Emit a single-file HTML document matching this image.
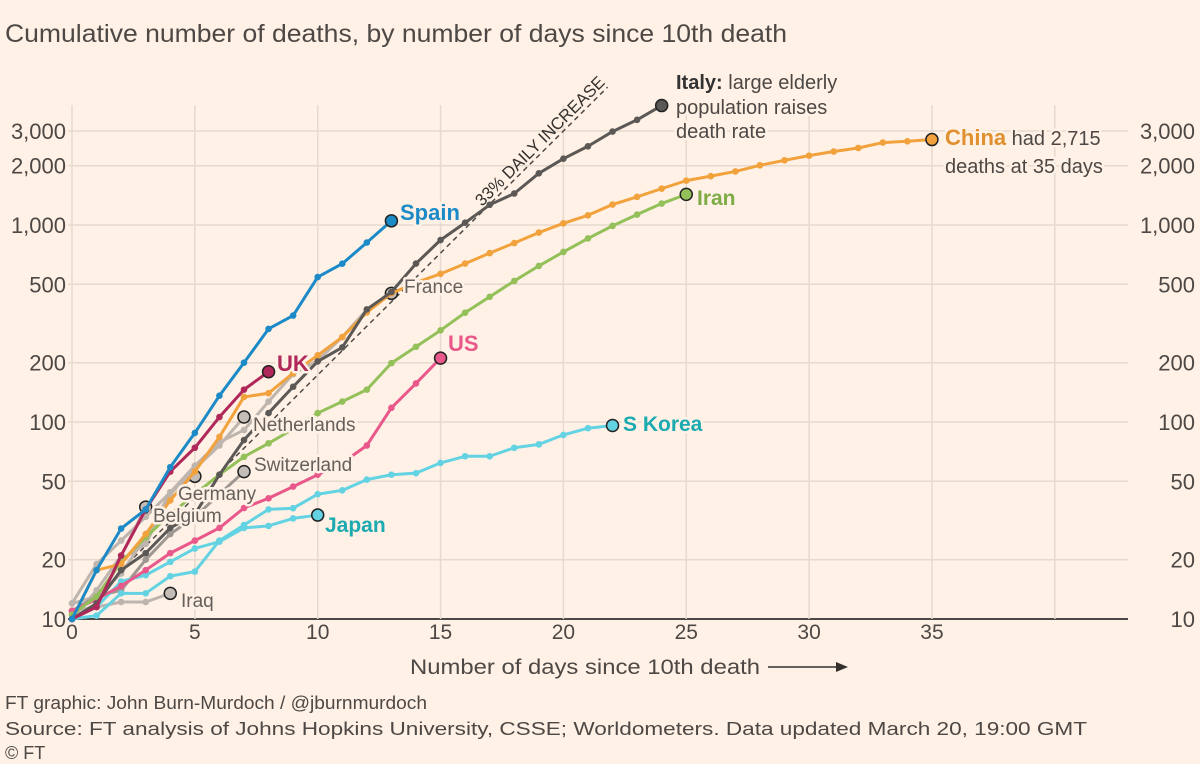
<!DOCTYPE html>
<html><head><meta charset="utf-8">
<style>
body{margin:0;background:#fff1e5;}
svg{display:block;font-family:"Liberation Sans",sans-serif;}
.halo{paint-order:stroke;stroke:#fff1e5;stroke-width:5px;stroke-linejoin:round;}
</style></head>
<body>
<svg id="chart" width="1200" height="764" viewBox="0 0 1200 764">
<rect width="1200" height="764" fill="#fff1e5"/>
<text x="5" y="42" font-size="25" fill="#4d4845" textLength="782" lengthAdjust="spacingAndGlyphs">Cumulative number of deaths, by number of days since 10th death</text>
<g id="grid"></g>
<g id="axes"></g>
<g id="series"></g>
<g id="labels">
<text class="halo" x="400" y="220" font-size="22" font-weight="bold" fill="#1d8ac8">Spain</text>
<text class="halo" x="676" y="89" font-size="20" fill="#4d4845"><tspan font-weight="bold" font-size="20" fill="#333">Italy:</tspan> large elderly</text>
<text class="halo" x="676" y="114" font-size="20" fill="#4d4845">population raises</text>
<text class="halo" x="676" y="138" font-size="20" fill="#4d4845">death rate</text>
<text class="halo" x="945" y="145" font-size="20" fill="#4d4845"><tspan font-weight="bold" font-size="22" fill="#e0902e">China</tspan> had 2,715</text>
<text class="halo" x="945" y="173" font-size="20" fill="#4d4845">deaths at 35 days</text>
<text class="halo" x="697" y="205" font-size="21" font-weight="bold" fill="#7fab45">Iran</text>
<text class="halo" x="404" y="293" font-size="19" fill="#66605c">France</text>
<text class="halo" x="448" y="351" font-size="22" font-weight="bold" fill="#e8588a">US</text>
<text class="halo" x="277" y="371" font-size="22" font-weight="bold" fill="#b0285a">UK</text>
<text class="halo" x="253" y="431" font-size="19" fill="#66605c">Netherlands</text>
<text class="halo" x="254" y="471" font-size="19" fill="#66605c">Switzerland</text>
<text class="halo" x="178" y="500" font-size="19" fill="#66605c">Germany</text>
<text class="halo" x="153" y="522" font-size="19" fill="#66605c">Belgium</text>
<text class="halo" x="181" y="607" font-size="19" fill="#66605c">Iraq</text>
<text class="halo" x="325" y="532" font-size="21" font-weight="bold" fill="#1aaab0">Japan</text>
<text class="halo" x="623" y="431" font-size="21" font-weight="bold" fill="#1aaab0">S Korea</text>
<text x="0" y="0" font-size="17" fill="#33302e" transform="translate(482,207) rotate(-45)" textLength="175" lengthAdjust="spacingAndGlyphs">33% DAILY INCREASE</text>
</g>
<text x="410" y="674" font-size="21" fill="#4d4845" textLength="350" lengthAdjust="spacingAndGlyphs">Number of days since 10th death</text>
<line x1="768" y1="667" x2="838" y2="667" stroke="#33302e" stroke-width="1.5"/>
<path d="M848 667 L836 662 L836 672 Z" fill="#33302e"/>
<text x="5" y="709" font-size="18" fill="#4d4845" textLength="422" lengthAdjust="spacingAndGlyphs">FT graphic: John Burn-Murdoch / @jburnmurdoch</text>
<text x="5" y="735" font-size="18" fill="#4d4845" textLength="1082" lengthAdjust="spacingAndGlyphs">Source: FT analysis of Johns Hopkins University, CSSE; Worldometers. Data updated March 20, 19:00 GMT</text>
<text x="5" y="759" font-size="18" fill="#4d4845">© FT</text>
</svg>
<script>
const yTicks = [10, 20, 50, 100, 200, 500, 1000, 2000, 3000];
const yTickLabels = ["10", "20", "50", "100", "200", "500", "1,000", "2,000", "3,000"];
const xTicks = [0, 5, 10, 15, 20, 25, 30, 35];
const spain = [10,17.7,28.8,36,59,88,136,200,297,347,544,636,815,1050];
const italy = [10,12,17.7,21.6,29,34,54,81,111,151,203,239,373,457,637,839,1027,1266,1445,1830,2170,2510,2980,3420,4040];
const china = [10,17.7,19,27,40,56,84,134,140,177,218,270,360,450,510,565,637,720,810,915,1020,1120,1270,1390,1530,1680,1770,1870,2010,2130,2250,2360,2460,2620,2660,2715];
const iran = [10.5,13,19.5,26,34,43,54,66.6,78,92,111,127,146,199,241,292,359,432,520,620,730,855,990,1130,1285,1430];
const us = [11,12.6,14.7,17.7,21.6,25,29,36.6,41,47,54,62,76,118,157,211];
const uk = [10,11.5,21,36,56,74,106,146,180];
const france = [12,19,25,33,44,60,79,91,127,175,205,270,372,450];
const netherlands = [10,12,20,24,43,58,76,106];
const germany = [12,13,17,26,44,53];
const belgium = [10,14,21,37];
const switzerland = [11,13,14,20,27,33,43,56];
const iraq = [11,11.5,12.2,12.2,13.5];
const japan = [10,11.5,15.5,16.7,19.5,22.8,24.7,29,29.7,32.4,33.7];
const skorea = [10,10.4,13.5,13.5,16.5,17.4,25,30,36,36.5,43,45,51,54,55,62,67,67,74,77,86,93,96];
const dailyRate = 1.33;
const dashStart = 2, dashEnd = 21.8;

const NS = "http://www.w3.org/2000/svg";
const X = d => 72 + d * 24.57;
const Y = v => 619 - 197 * (Math.log10(v) - 1);
function mk(tag, attrs, parent){const e=document.createElementNS(NS,tag);for(const k in attrs)e.setAttribute(k,attrs[k]);parent.appendChild(e);return e;}
const grid=document.getElementById('grid'), axes=document.getElementById('axes'), ser=document.getElementById('series');
yTicks.forEach((v,i)=>{
  const l=mk('line',{x1:68,x2:1128,y1:Y(v),y2:Y(v),stroke:v===10?'#4d4845':'#e6d9ce','stroke-width':v===10?2:1.5},grid);
  
  
  const t=mk('text',{x:66,y:Y(v)+8,'text-anchor':'end','font-size':22,fill:'#4d4845'},axes);
  t.textContent=yTickLabels[i];
  
  
  const t2=mk('text',{x:1195,y:Y(v)+8,'text-anchor':'end','font-size':22,fill:'#4d4845'},axes);
  t2.textContent=yTickLabels[i];
  
  
});
xTicks.concat([40]).forEach(d=>{
  const l=mk('line',{x1:X(d),x2:X(d),y1:105,y2:619,stroke:'#e6d9ce','stroke-width':1.5},grid);
  
  
});
xTicks.forEach(d=>{
  const t=mk('text',{x:X(d),y:639,'text-anchor':'middle','font-size':21,fill:'#4d4845'},axes);
  t.textContent=String(d);
  
  
});
const dl=mk('line',{x1:X(dashStart),y1:Y(10*Math.pow(dailyRate,dashStart)),x2:X(dashEnd),y2:Y(10*Math.pow(dailyRate,dashEnd)),stroke:'#4d4845','stroke-width':1.5,'stroke-dasharray':'5 4'},ser);


function draw(name,data,color,endFill,w){
  const g=mk('g',{},ser);
  
  
  const p=mk('polyline',{points:data.map((v,i)=>X(i)+','+Y(v)).join(' '),fill:'none',stroke:color,'stroke-width':w||3,'stroke-linejoin':'round'},g);
  
  
  data.forEach((v,i)=>{
    const last=i===data.length-1;
    const c=mk('circle',{cx:X(i),cy:Y(v),r:last?6:3.3,fill:last?endFill:color},g);
    if(last){c.setAttribute('stroke','#222');c.setAttribute('stroke-width','1.5');}
    
    
  });
}
const lg='#bdb5ae';
draw('iraq',iraq,lg,'#c4bcb6');
draw('belgium',belgium,lg,'#c4bcb6');
draw('germany',germany,lg,'#c4bcb6');
draw('netherlands',netherlands,lg,'#c4bcb6');
draw('switzerland',switzerland,'#9e9791','#c4bcb6');
draw('france',france,lg,'#c4bcb6');
draw('japan',japan,'#63d3e3','#63d3e3');
draw('s-korea',skorea,'#63d3e3','#63d3e3');
draw('us',us,'#e8588a','#e8588a');
draw('iran',iran,'#94c05a','#94c05a');
draw('china',china,'#f2a23c','#f2a23c');
draw('italy',italy,'#5c5856','#5c5856');
draw('uk',uk,'#b0285a','#b0285a');
draw('spain',spain,'#1d8ac8','#1d8ac8');
</script>
</body></html>
